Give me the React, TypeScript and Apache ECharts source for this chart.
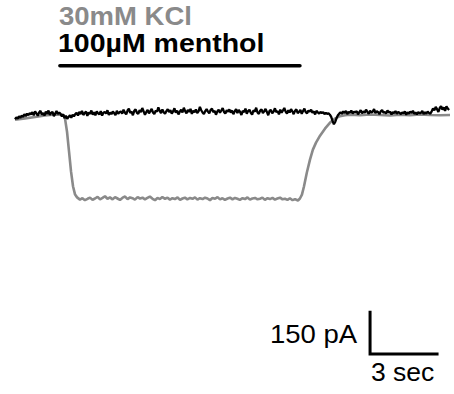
import React, { useEffect, useRef } from "react";
import * as echarts from "echarts";

// Time axis (s) and current axis (pA)
const X_MIN = 0;
const X_MAX = 19.48;
const Y_MIN = -1000;
const Y_MAX = 400;

// Black trace (100 µM menthol): sampled every 0.06 s, values in pA
const BLACK_DT = 0.06;
const blackValues: number[] = [
  -16, -10, -14, -6, -11, -3, -8, 2, -5, 4, -2, 6,
  1, 9, -2, 12, 5, -4, 8, 14, 0, 6, -3, 11, 3, 15, -1, 7, 10, -5, 4, 13, 2, 8,
  3, -6, 1, -12, -4, -15, -8, -2, -11, 0, -6, 2,
  7, -3, 10, 2, 14, -1, 6, 11, -4, 8, 3, 15, 0, 9, -2, 12, 5, 1, 13, -3, 7, 10, 4, 16, -1, 8, 2, 11, 6, -2, 14, 3, 9,
  12, 4, 18, 8, 1, 15, 22, 6, 11, -2, 14, 19, 7, 3, 16, 9, 24, 12, 0, 10,
  17, 5, 13, 21, 8, 2, 15, 11, 26, 14, 6, 19, 9, 3, 13, 20, 10, 16, 4, 12,
  23, 7, 15, 1, 11, 18, 8, 25, 13, 5, 17, 10, 21, 3, 14, 9, 19, 6, 12, 28,
  16, 8, 2, 13, 20, 11, 5, 17, 22, 9, 14, 0, 12, 18, 7, 15, 24, 10, 4, 16, 11, 19,
  8, 15, 2, 12, 20, 6, 17, 10, -1, 14, 9, 22, 4, 13, 18, 7, 0, 16, 11, 25,
  8, 3, 15, 19, 6, 12, 21, 10, -2, 14, 17, 5, 11, 23, 9, 13, 1, 18, 7, 15,
  24, 11, 4, 16, 8, 20, 12, 2, 14, 19, 6, 10, 17, 3, 13, 22, 9, 5, 15, 11,
  18, 7, 12, 1, 14, 8, 4, 10, 6, 9, 2, 7, 3, 5,
  0, -8, -22, -34, -26, -12, -2, 4,
  9, 3, 12, 6, 14, 2, 10, 7, 15, 4, 11, 8, 13, 1, 9, 16, 5, 12, 7, 18,
  10, 3, 14, 8, 11, 20, 6, 13, 9, 2, 12, 17, 7, 10, 4, 15, 8, 11, 1, 9,
  6, 13, 3, 10, 7, 2, 8, 5, 12, 0, 9, 4, 11, 6, 14, 3, 8, 1, 10, 5, 7, 13, 2, 9, 4, 11, 6,
  4, 12, 22, 16, 28, 20, 10, 24, 31, 18, 26, 14, 30, 22, 17,
];

// Gray trace (30 mM KCl): time (s) and current (pA)
const grayTimes: number[] = [
  0.0, 0.45, 0.9, 1.34, 1.79, 2.15, 2.24, 2.33, 2.42, 2.51, 2.6, 2.69, 2.78, 2.91,
  3.02, 3.13, 3.25, 3.36, 3.47, 3.58, 3.7, 3.81, 3.92, 4.03, 4.14, 4.25, 4.37, 4.48,
  4.59, 4.7, 4.82, 4.93, 5.04, 5.15, 5.26, 5.37, 5.49, 5.6, 5.71, 5.82, 5.93, 6.04,
  6.16, 6.27, 6.38, 6.49, 6.6, 6.72, 6.83, 6.94, 7.05, 7.16, 7.28, 7.39, 7.5, 7.61,
  7.72, 7.84, 7.95, 8.06, 8.17, 8.28, 8.4, 8.51, 8.62, 8.73, 8.84, 8.96, 9.07, 9.18,
  9.29, 9.4, 9.52, 9.63, 9.74, 9.85, 9.96, 10.07, 10.19, 10.3, 10.41, 10.52, 10.63,
  10.75, 10.86, 10.97, 11.08, 11.19, 11.31, 11.42, 11.53, 11.64, 11.75, 11.87, 11.98,
  12.09, 12.2, 12.31, 12.43, 12.54, 12.67,
  12.76, 12.85, 12.94, 13.07, 13.21, 13.34, 13.48, 13.66, 13.88, 14.1, 14.33, 14.55,
  14.78, 15.0, 15.45, 15.9, 16.34, 16.79, 17.24, 17.69, 18.13, 18.58, 19.03, 19.48,
];
const grayValues: number[] = [
  -18, -13, -8, -3, 1, 0, -14, -61, -132, -204, -257, -286, -296, -304,
  -299, -306, -301, -297, -305, -300, -294, -303, -298, -292, -301, -296, -303, -295,
  -300, -305, -297, -293, -302, -296, -299, -304, -295, -300, -297, -303, -298, -293,
  -301, -306, -298, -302, -295, -301, -297, -304, -299, -302, -296, -305, -300, -297,
  -303, -298, -301, -296, -304, -299, -302, -297, -300, -306, -298, -301, -295, -303,
  -299, -305, -300, -297, -303, -298, -301, -305, -299, -302, -296, -304, -300,
  -298, -303, -301, -297, -305, -299, -302, -298, -304, -300, -297, -303,
  -301, -305, -299, -306, -302, -307,
  -300, -286, -257, -207, -161, -125, -100, -75, -50, -29, -14, -5,
  -2, 0, -2, 1, -1, -3, 0, -2, 1, -1, -2, -1,
];

// Menthol application bar (s) at a fixed level (pA)
const mentholStart = 2.01;
const mentholEnd = 12.76;
const mentholLevel = 175;

// Scale bar: 150 pA, 3 sec
const scaleX0 = 15.9;
const scaleTime = 3;
const scaleTop = -707;
const scaleCurrent = 150;

const labelKCl = "30mM KCl";
const labelMenthol = "100µM menthol";
const labelPA = "150 pA";
const labelSec = "3 sec";

export default function App() {
  const ref = useRef<HTMLDivElement>(null);

  useEffect(() => {
    if (!ref.current) return;
    const chart = echarts.init(ref.current, undefined, { renderer: "svg" });

    const blackData = blackValues.map((v, i) => [+(i * BLACK_DT).toFixed(3), v]);
    const grayData = grayTimes.map((t, i) => [t, grayValues[i]]);
    const barData = [
      [mentholStart, mentholLevel],
      [mentholEnd, mentholLevel],
    ];
    const scaleData = [
      [scaleX0, scaleTop],
      [scaleX0, scaleTop - scaleCurrent],
      [scaleX0 + scaleTime, scaleTop - scaleCurrent],
    ];

    const font = (w: string, s: number) => `${w} ${s}px "Liberation Sans", Arial, sans-serif`;
    const txt = (text: string, x: number, y: number, sx: number, weight: string, fill: string) => ({
      type: "text",
      x,
      y,
      scaleX: sx,
      silent: true,
      style: {
        text,
        font: font(weight, 25),
        fill,
        textAlign: "left",
        align: "left",
        textVerticalAlign: "middle",
        verticalAlign: "middle",
      },
    });

    chart.setOption({
      animation: false,
      backgroundColor: "#ffffff",
      grid: { left: 15, top: 3, width: 435, height: 392, containLabel: false },
      xAxis: { type: "value", min: X_MIN, max: X_MAX, show: false },
      yAxis: { type: "value", min: Y_MIN, max: Y_MAX, show: false },
      series: [
        {
          type: "line",
          data: grayData,
          symbol: "none",
          clip: false,
          lineStyle: { color: "#8a8a8a", width: 2.6 },
          z: 2,
        },
        {
          type: "line",
          data: blackData,
          symbol: "none",
          clip: false,
          lineStyle: { color: "#000000", width: 2.3 },
          z: 3,
        },
        {
          type: "line",
          data: barData,
          symbol: "none",
          clip: false,
          lineStyle: { color: "#000000", width: 3.5, cap: "round" },
          z: 3,
        },
        {
          type: "line",
          data: scaleData,
          symbol: "none",
          clip: false,
          lineStyle: { color: "#000000", width: 3, cap: "square", join: "miter" },
          z: 3,
        },
      ],
      graphic: [
        txt(labelKCl, 59, 16, 1.1, "bold", "#8a8a8a"),
        txt(labelMenthol, 58, 44, 1.14, "bold", "#000000"),
        txt(labelPA, 270, 334, 1.1, "normal", "#000000"),
        txt(labelSec, 371, 372, 1.06, "normal", "#000000"),
      ],
    });

    return () => chart.dispose();
  }, []);

  return (
    <div
      ref={ref}
      style={{ position: "fixed", left: 0, top: 0, width: 454, height: 394, background: "#fff" }}
    />
  );
}
